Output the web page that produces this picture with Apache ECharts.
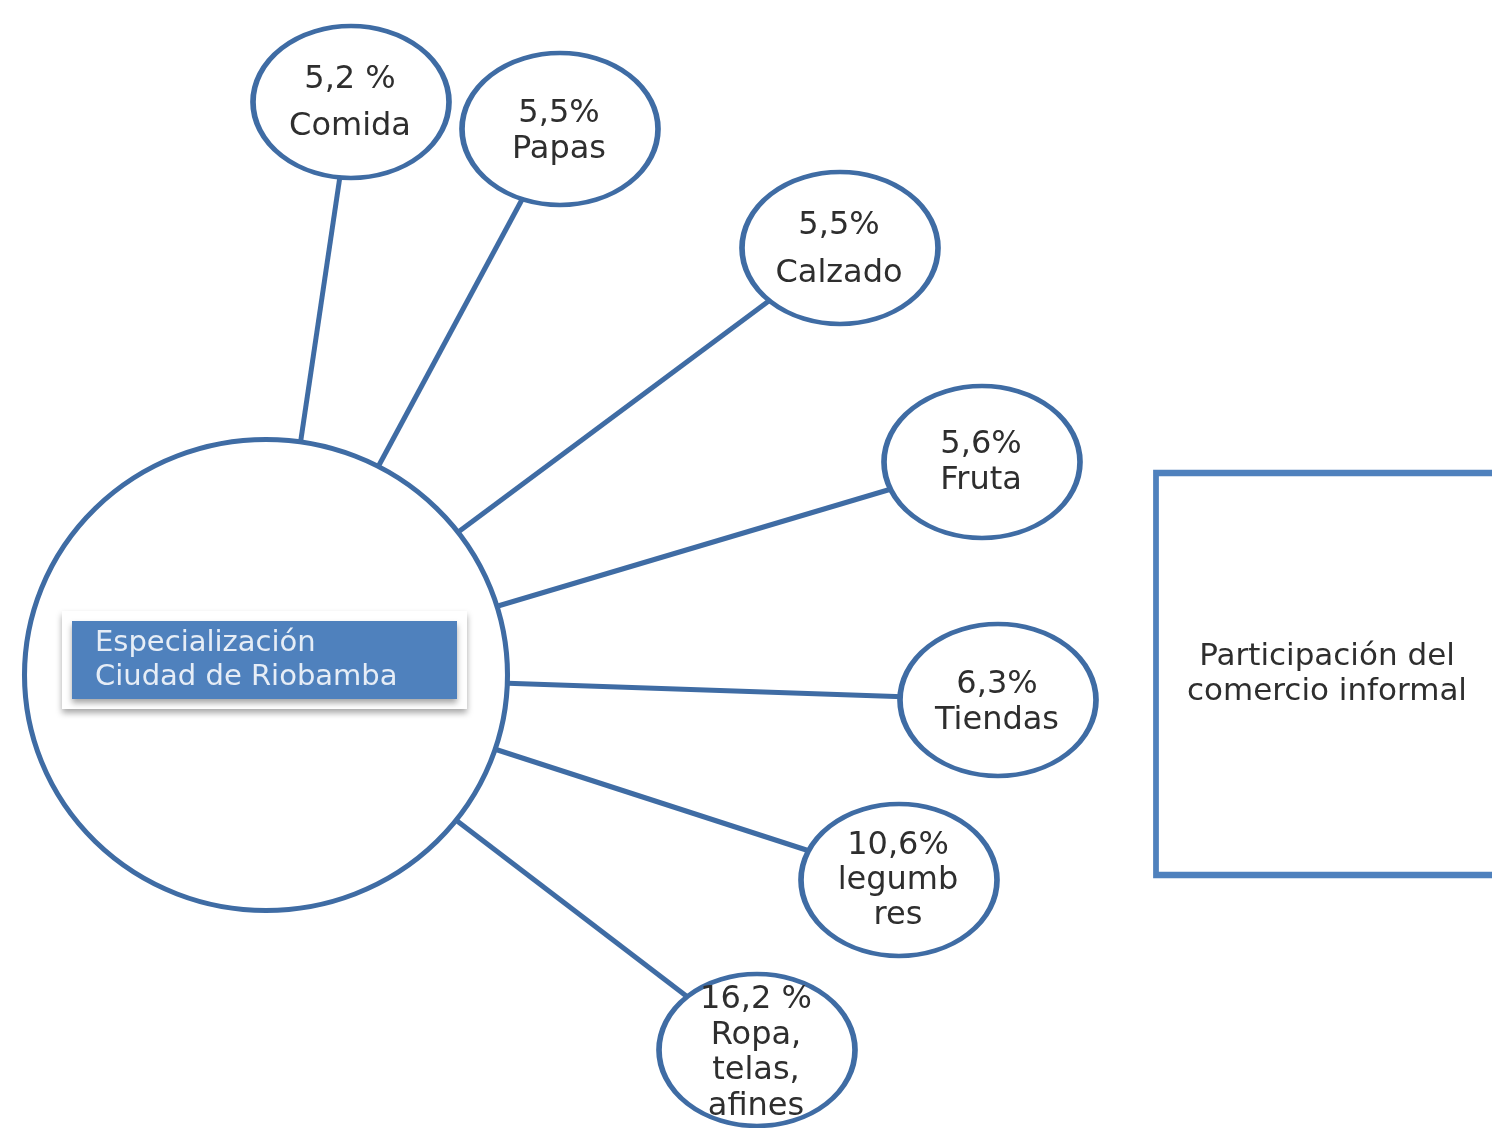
<!DOCTYPE html>
<html><head><meta charset="utf-8">
<script src="https://cdn.jsdelivr.net/npm/echarts@6/dist/echarts.min.js"></script>
<style>html,body{margin:0;padding:0;background:#fff}#c{width:1492px;height:1128px}</style>
</head><body><div id="c"></div><script>
// ---- data ----
const hubTitle = ['Especialización', 'Ciudad de Riobamba'];
const boxTitle = ['Participación del', 'comercio informal'];
const categories = ['Comida', 'Papas', 'Calzado', 'Fruta', 'Tiendas', 'legumb\nres', 'Ropa,\ntelas,\nafines'];
const shares = [5.2, 5.5, 5.5, 5.6, 6.3, 10.6, 16.2];
const shareSuffix = [' %', '%', '%', '%', '%', '%', ' %'];

// ---- layout (diagram placement, px) ----
const hubCenter = [266, 675];
const boxCenter = [1341, 674];
const nodeCenters = [[351, 102], [560, 129], [840, 248], [982, 462], [998, 700], [899, 880], [757, 1050]];
const nodeLineHeights = [47, 36, 48, 36, 36, 35, 35.5];
const nodeLabelShift = [1, 3, 2, 1, 3, 1, 3];

const STROKE = '#3f6ca4';
const TEXT = '#2e2e2e';
const FONT = '"DejaVu Sans", Verdana, sans-serif';

const nodes = [];
nodes.push({
  name: 'hub', value: hubCenter, symbol: 'circle', symbolSize: [483, 471],
  itemStyle: { color: '#fff', borderColor: STROKE, borderWidth: 5 },
  label: {
    show: true, position: 'inside', offset: [-194, -15],
    formatter: hubTitle.join('\n'),
    fontFamily: FONT, fontSize: 29, color: '#e6edf6', lineHeight: 34,
    align: 'left', verticalAlign: 'middle',
    width: 352, padding: [5, 10, 5, 23],
    backgroundColor: '#4f81bd', borderColor: '#ffffff', borderWidth: 10,
    shadowColor: 'rgba(0,0,0,0.35)', shadowBlur: 6, shadowOffsetY: 4
  }
});
categories.forEach((c, i) => {
  nodes.push({
    name: c, value: nodeCenters[i], symbol: 'circle', symbolSize: [196, 152],
    itemStyle: { color: '#fff', borderColor: STROKE, borderWidth: 5 },
    label: {
      show: true, position: 'inside', offset: [-1, nodeLabelShift[i]],
      formatter: shares[i].toFixed(1).replace('.', ',') + shareSuffix[i] + '\n' + c,
      fontFamily: FONT, fontSize: 32, color: TEXT, lineHeight: nodeLineHeights[i], align: 'center'
    }
  });
});
nodes.push({
  name: 'box', value: boxCenter, symbol: 'rect', symbolSize: [370, 402],
  itemStyle: { color: '#fff', borderColor: '#4f81bd', borderWidth: 6 },
  label: {
    show: true, position: 'inside', offset: [-14, 0],
    formatter: boxTitle.join('\n'),
    fontFamily: FONT, fontSize: 31, color: TEXT, lineHeight: 35, align: 'center'
  }
});
const links = categories.map(c => ({ source: 'hub', target: c }));

const chart = echarts.init(document.getElementById('c'), null, { renderer: 'canvas' });
chart.setOption({
  animation: false,
  backgroundColor: '#ffffff',
  grid: { left: 0, right: 0, top: 0, bottom: 0 },
  xAxis: { type: 'value', min: 0, max: 1492, show: false },
  yAxis: { type: 'value', min: 0, max: 1128, inverse: true, show: false },
  series: [{
    type: 'graph', coordinateSystem: 'cartesian2d', layout: 'none', silent: true,
    data: nodes, links: links,
    lineStyle: { color: STROKE, width: 5, opacity: 1, curveness: 0 },
    emphasis: { disabled: true }
  }]
});
</script></body></html>
